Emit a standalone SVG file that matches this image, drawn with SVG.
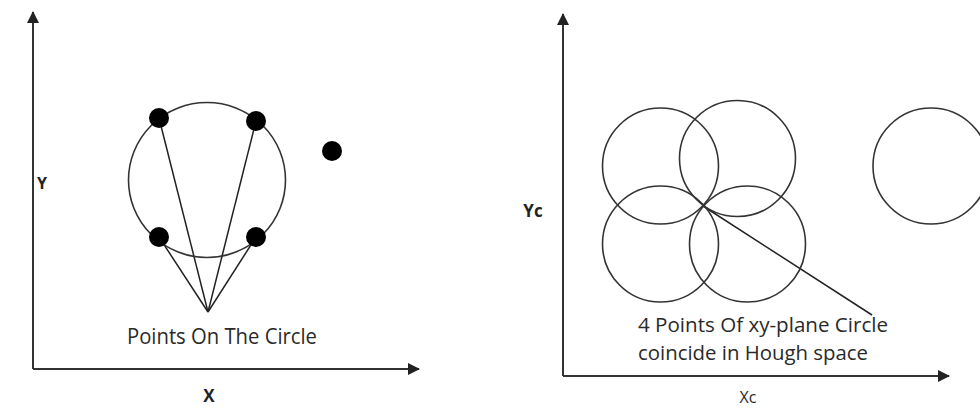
<svg xmlns="http://www.w3.org/2000/svg" width="980" height="410" viewBox="0 0 980 410">
  <defs>
    <marker id="arr" viewBox="0 0 12 12" refX="11" refY="6" markerWidth="12" markerHeight="12" markerUnits="userSpaceOnUse" orient="auto">
      <path d="M0,0 L12,6 L0,12 z" fill="#222"/>
    </marker>
    <style>
      .axis { stroke: #333; stroke-width: 2; fill: none; }
      .ln { stroke: #222; stroke-width: 1.5; fill: none; }
      .circ { stroke: #333; stroke-width: 1.6; fill: none; }
      .dot { fill: #000; }
      .lbl { font-family: "Open Sans", "Liberation Sans", sans-serif; fill: #2a2a2a; }
      .ax { font-family: "Open Sans", "Liberation Sans", sans-serif; fill: #222; font-weight: bold; }
    </style>
  </defs>
  <rect width="980" height="410" fill="#fff"/>

  <g id="connectors">
    <line class="axis" x1="33" y1="369" x2="33" y2="12" marker-end="url(#arr)"/>
    <line class="axis" x1="33" y1="369" x2="419" y2="369" marker-end="url(#arr)"/>
    <line class="axis" x1="563" y1="376" x2="563" y2="14" marker-end="url(#arr)"/>
    <line class="axis" x1="563" y1="376" x2="949" y2="376" marker-end="url(#arr)"/>
    <line class="ln" x1="159" y1="118" x2="208" y2="312"/>
    <line class="ln" x1="256" y1="121" x2="208" y2="312"/>
    <line class="ln" x1="159" y1="237" x2="208" y2="312"/>
    <line class="ln" x1="256" y1="237" x2="208" y2="312"/>
    <line class="ln" x1="703" y1="206" x2="872" y2="315"/>
  </g>

  <g id="xy-circle">
    <ellipse class="circ" cx="207" cy="180" rx="78.5" ry="77.5"/>
  </g>
  <g id="point-1"><circle class="dot" cx="159" cy="118" r="10"/></g>
  <g id="point-2"><circle class="dot" cx="256" cy="121" r="10"/></g>
  <g id="point-3"><circle class="dot" cx="159" cy="237" r="10"/></g>
  <g id="point-4"><circle class="dot" cx="256" cy="237" r="10"/></g>
  <g id="point-outlier"><circle class="dot" cx="332" cy="151" r="10"/></g>

  <g id="label-left">
    <text class="lbl" x="222" y="344" font-size="21" text-anchor="middle" textLength="190" lengthAdjust="spacingAndGlyphs">Points On The Circle</text>
  </g>
  <g id="axis-labels-left">
    <text class="ax" x="42" y="189" font-size="16" text-anchor="middle">Y</text>
    <text class="ax" x="209" y="402" font-size="17" text-anchor="middle">X</text>
  </g>

  <g id="hough-circle-1"><circle class="circ" cx="660.5" cy="166" r="58"/></g>
  <g id="hough-circle-2"><circle class="circ" cx="737.5" cy="158.5" r="58"/></g>
  <g id="hough-circle-3"><circle class="circ" cx="660.5" cy="244" r="58"/></g>
  <g id="hough-circle-4"><circle class="circ" cx="747.5" cy="244" r="58"/></g>
  <g id="hough-circle-5"><circle class="circ" cx="931" cy="166" r="58"/></g>

  <g id="label-right">
    <text class="lbl" x="638" y="332" font-size="20" textLength="250" lengthAdjust="spacingAndGlyphs">4 Points Of xy-plane Circle</text>
    <text class="lbl" x="638" y="360" font-size="20" textLength="230" lengthAdjust="spacingAndGlyphs">coincide in Hough space</text>
  </g>
  <g id="axis-labels-right">
    <text class="ax" x="533" y="217" font-size="17" text-anchor="middle">Yc</text>
    <text class="lbl" x="748" y="403" font-size="16" text-anchor="middle">Xc</text>
  </g>
</svg>
